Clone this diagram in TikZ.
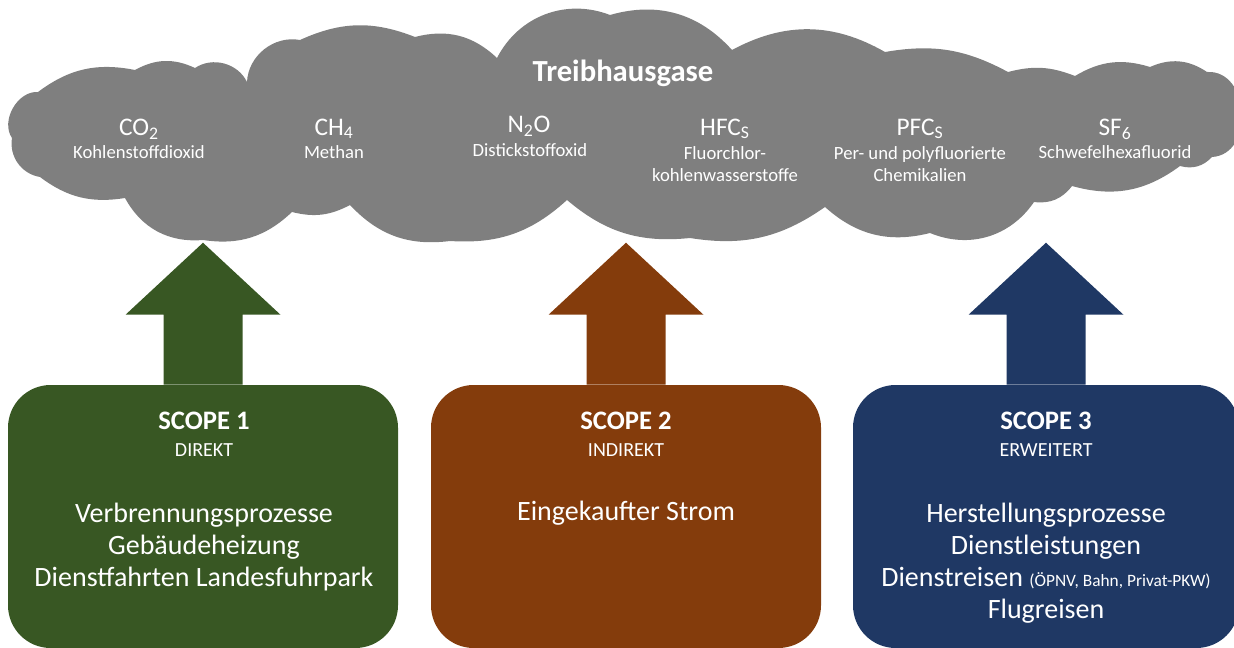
\documentclass[tikz,border=0pt]{standalone}
\usepackage{fontspec}
\setmainfont{Carlito}
\usetikzlibrary{positioning}
\definecolor{gruen}{HTML}{385723}
\definecolor{braun}{HTML}{843C0C}
\definecolor{blau}{HTML}{1F3864}
\definecolor{wolke}{HTML}{7F7F7F}
\tikzset{
  box/.style={rounded corners=32pt,minimum height=197.25pt,inner sep=0pt},
  weiss/.style={text=white,align=center,inner sep=0pt},
  titel/.style={weiss,font=\fontsize{23}{26}\selectfont\bfseries},
  kopf/.style={weiss,font=\fontsize{20}{24}\selectfont\bfseries},
  unter/.style={weiss,font=\fontsize{15}{18}\selectfont},
  inhalt/.style={weiss,font=\fontsize{21}{24}\selectfont},
  gas/.style={weiss,font=\fontsize{19}{22}\selectfont},
  gasname/.style={weiss,font=\fontsize{14}{16.5}\selectfont}}
\begin{document}
\begin{tikzpicture}[x=0.75pt,y=-0.75pt]
\useasboundingbox (0,0) rectangle (1234,648);
\fill[wolke] (12,138) to[bend left=64] (38,92) to[bend left=24] (135,70) to[bend left=27] (195,68)
  to[bend left=49] (247,82) to[bend left=49] (300,40) to[bend left=23] (415,37) to[bend left=29] (497,58)
  to[bend left=42] (610,15) to[bend left=32] (732,50) to[bend left=29] (885,52) to[bend left=19] (1008,72)
  to[bend left=18] (1075,76) to[bend left=24] (1150,67) to[bend left=29] (1207,72)
  to[bend left=90,looseness=1.3] (1212,157) to[bend left=31] (1180,166) to[bend left=26] (1072,186)
  to[bend left=30] (1034,202) to[bend left=39] (930,233) to[bend left=28] (825,207) to[bend left=22] (690,238)
  to[bend left=23] (567,200) to[bend left=23] (450,241) to[bend left=27] (350,205) to[bend left=21] (292,212)
  to[bend left=26] (203,240) to[bend left=33] (125,198) to[bend left=23] (40,177) to[bend left=45] (12,138) -- cycle;
\node[titel] (tg) at (623,73) {Treibhausgase};
\node[gas] (co2) at (139,129) {CO\textsubscript{2}};
\node[gasname] (co2n) at (139,152) {Kohlenstoffdioxid};
\node[gas] (ch4) at (334,129) {CH\textsubscript{4}};
\node[gasname] (ch4n) at (334,152) {Methan};
\node[gas] (n2o) at (529,126) {N\textsubscript{2}O};
\node[gasname] (n2on) at (530,150) {Distickstoffoxid};
\node[gas] (hfc) at (725,129) {HFC\textsubscript{S}};
\node[gasname] (hfcn) at (725,164) {Fluorchlor-\\kohlenwasserstoffe};
\node[gas] (pfc) at (920,129) {PFC\textsubscript{S}};
\node[gasname] (pfcn) at (920,164) {Per- und polyfluorierte\\Chemikalien};
\node[gas] (sf6) at (1115,129) {SF\textsubscript{6}};
\node[gasname] (sf6n) at (1115,152) {Schwefelhexafluorid};
\node[box,fill=gruen,minimum width=292.5pt] (s1) at (203,516.5) {};
\node[box,fill=braun,minimum width=292.5pt] (s2) at (626,516.5) {};
\node[box,fill=blau,minimum width=289.5pt] (s3) at (1046,516.5) {};
\fill[gruen] (s1.north) ++(-39.5,0) -- ++(0,-70) -- ++(-38,0) -- ++(77.5,-72) -- ++(77.5,72) -- ++(-38,0) -- ++(0,70) -- cycle;
\fill[braun] (s2.north) ++(-39.5,0) -- ++(0,-70) -- ++(-38,0) -- ++(77.5,-72) -- ++(77.5,72) -- ++(-38,0) -- ++(0,70) -- cycle;
\fill[blau] (s3.north) ++(-39.5,0) -- ++(0,-70) -- ++(-38,0) -- ++(77.5,-72) -- ++(77.5,72) -- ++(-38,0) -- ++(0,70) -- cycle;
\node[kopf] (s1k) at (204,421) {SCOPE 1};
\node[unter] (s1u) at (204,450) {DIREKT};
\node[inhalt] (s1t) at (204,547) {Verbrennungsprozesse\\Gebäudeheizung\\Dienstfahrten Landesfuhrpark};
\node[kopf] (s2k) at (626,421) {SCOPE 2};
\node[unter] (s2u) at (626,450) {INDIREKT};
\node[inhalt] (s2t) at (626,513) {Eingekaufter Strom};
\node[kopf] (s3k) at (1046,421) {SCOPE 3};
\node[unter] (s3u) at (1046,450) {ERWEITERT};
\node[inhalt] (s3t) at (1046,563) {Herstellungsprozesse\\Dienstleistungen\\Dienstreisen {\fontsize{13}{14}\selectfont(ÖPNV, Bahn, Privat-PKW)}\\Flugreisen};
\end{tikzpicture}
\end{document}
